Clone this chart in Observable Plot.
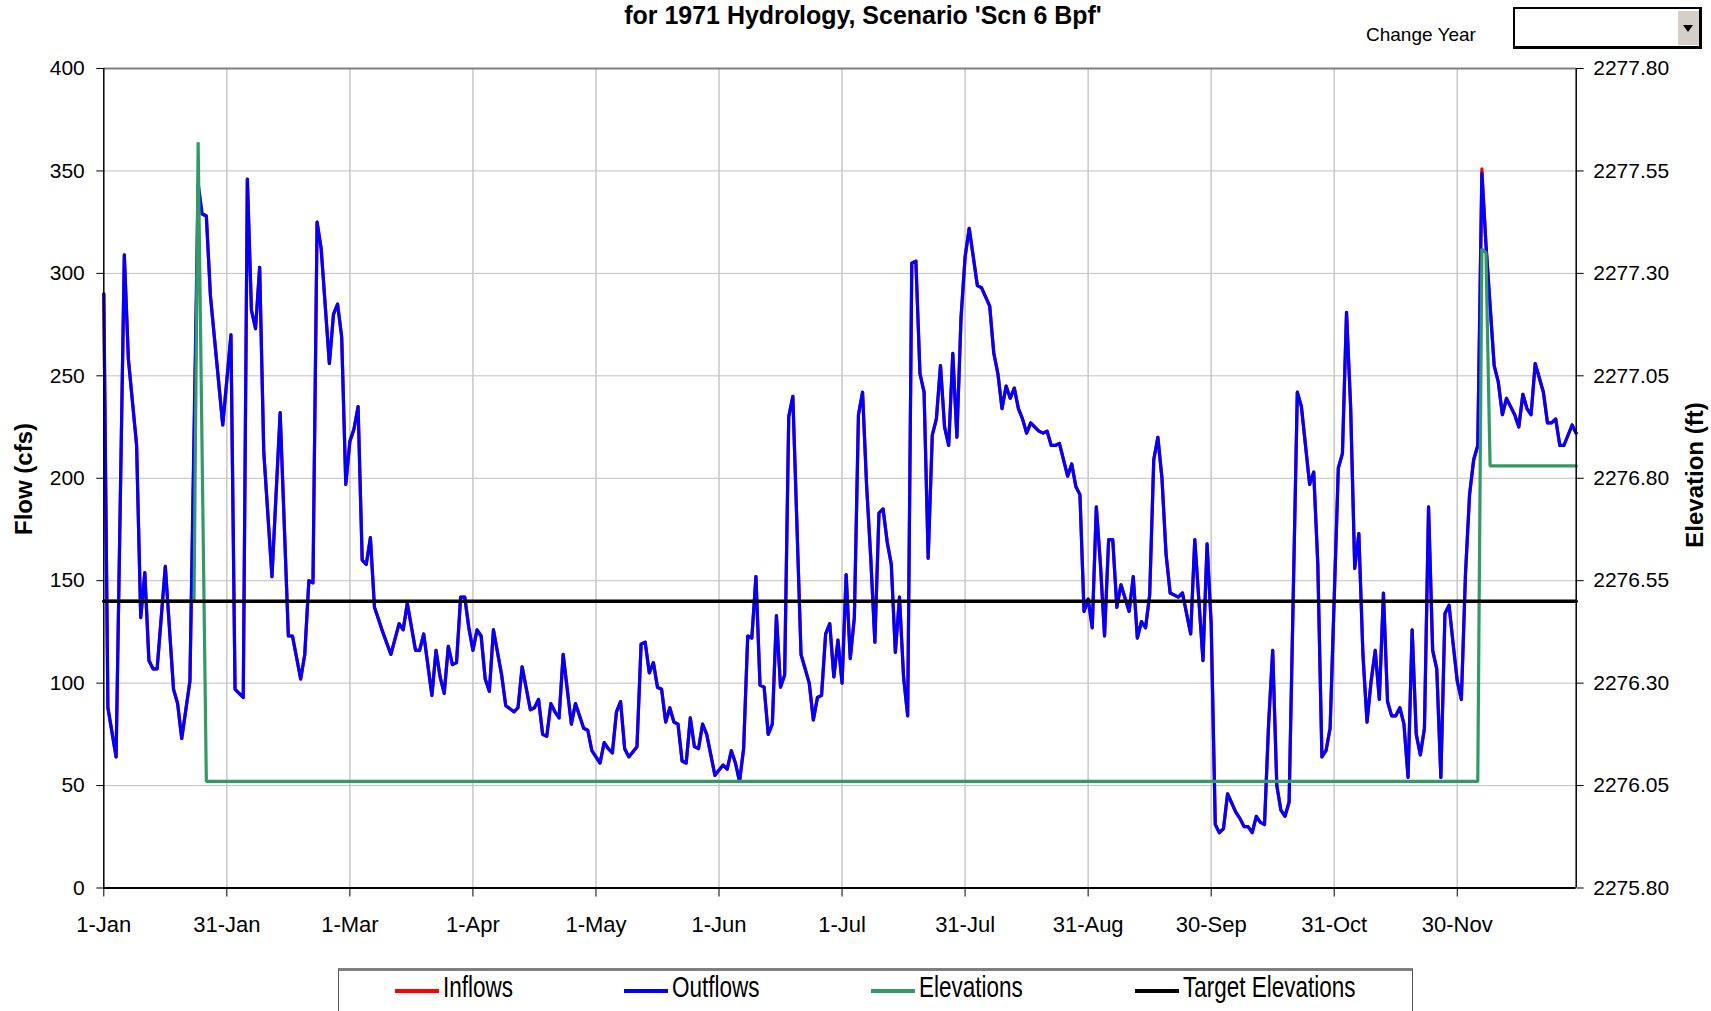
<!DOCTYPE html>
<html>
<head>
<meta charset="utf-8">
<script src="https://cdn.jsdelivr.net/npm/d3@7"></script>
<script src="https://cdn.jsdelivr.net/npm/@observablehq/plot@0.6"></script>
<style>
  html, body { margin: 0; padding: 0; background: #fff; overflow: hidden; }
  #wrap { position: relative; width: 1711px; height: 1011px; overflow: hidden;
          font-family: 'Liberation Sans', Arial, sans-serif; color: #000; background: #fff; }
  #chart { position: absolute; left: 0; top: 0; }
  .title { position: absolute; left: 863px; top: 0px; font-weight: bold; font-size: 26px;
           line-height: 30px; white-space: nowrap; transform: translateX(-50%) scaleX(0.96); }
  .ytitle { position: absolute; font-weight: bold; font-size: 24px; line-height: 24px;
            white-space: nowrap; transform: translate(-50%, -50%) rotate(-90deg); }
  .cy { position: absolute; left: 1366px; top: 25px; font-size: 19px; line-height: 19px; white-space: nowrap; }
  .dd { position: absolute; left: 1513px; top: 7px; width: 189px; height: 42px; box-sizing: border-box;
        border-top: 2px solid #000; border-left: 2px solid #000; border-right: 3px solid #000;
        border-bottom: 3px solid #000; background: #fff; }
  .dd .btn { position: absolute; right: 0px; top: 1px; width: 22px; height: 35px; background: #d4d0c8;
             border-left: 1px solid #fff; border-top: 1px solid #fff; box-sizing: border-box; }
  .dd .btn:after { content: ""; position: absolute; left: 5px; top: 14px; width: 0; height: 0;
             border-left: 5px solid transparent; border-right: 5px solid transparent; border-top: 7px solid #000; }
  .legend { position: absolute; left: 338px; top: 968px; width: 1075px; height: 60px; box-sizing: border-box;
            border-top: 3px solid #808080; border-left: 1px solid #555; border-right: 1px solid #555; background: #fff; }
  .sw { position: absolute; width: 44px; height: 4px; top: 989px; }
  .lt { position: absolute; top: 973px; font-size: 29px; line-height: 29px; white-space: nowrap;
        transform: scaleX(0.775); transform-origin: left center; }
</style>
</head>
<body>
<div id="wrap">
  <div id="chart"></div>
  <div class="title">for 1971 Hydrology, Scenario 'Scn 6 Bpf'</div>
  <div class="cy">Change Year</div>
  <div class="dd"><div class="btn"></div></div>
  <div class="ytitle" style="left:24px; top:479px;">Flow (cfs)</div>
  <div class="ytitle" style="left:1695px; top:475px;">Elevation (ft)</div>
  <div class="legend"></div>
  <div id="legendItems"></div>
</div>
<script>
// ---- Data ----
// x = day index of the plotted series (0 = 1-Jan, labels every 30 points)
const dateTickIdx = [0, 30, 60, 90, 120, 150, 180, 210, 240, 270, 300, 330];
const dateLabels = ["1-Jan", "31-Jan", "1-Mar", "1-Apr", "1-May", "1-Jun", "1-Jul", "31-Jul", "31-Aug", "30-Sep", "31-Oct", "30-Nov"];

const flowTicks = [0, 50, 100, 150, 200, 250, 300, 350, 400];
const elevTickLabels = ["2275.80", "2276.05", "2276.30", "2276.55", "2276.80", "2277.05", "2277.30", "2277.55", "2277.80"];
const elevMin = 2275.80, elevMax = 2277.80, flowMax = 400;

// Outflows (cfs), vertices of the daily series
const outflowDay = [
  0,1,3,5,6,8,9,10,11,12,13,15,17,18,19,21,23,24,25,26,
  29,31,32,34,35,36,37,38,39,41,43,45,46,48,49,50,51,52,53,55,
  56,57,58,59,60,61,62,63,64,65,66,67,68,70,72,73,74,76,77,78,
  80,81,82,83,84,85,86,87,88,89,90,91,92,93,94,95,97,98,100,101,
  102,104,105,106,107,108,109,110,111,112,114,115,117,118,119,121,122,123,124,125,
  126,127,128,130,131,132,133,134,135,136,137,138,139,140,141,142,143,144,145,146,
  147,149,151,152,153,154,155,156,157,158,159,160,161,162,163,164,165,166,167,168,
  170,172,173,174,175,176,177,178,179,180,181,182,183,184,185,186,187,188,189,190,
  191,192,193,194,195,196,197,198,199,200,201,202,203,204,205,206,207,208,209,210,
  211,213,214,216,217,218,219,220,221,222,223,224,225,226,227,228,229,230,231,232,
  233,235,236,237,238,239,240,241,242,243,244,245,246,247,248,250,251,252,253,254,
  255,256,257,258,259,260,262,263,265,266,268,269,270,271,272,273,274,276,277,278,
  279,280,281,282,283,284,285,286,287,288,289,291,292,294,295,296,297,298,299,301,
  302,303,304,305,306,307,308,309,310,311,312,313,314,315,316,317,318,319,320,321,
  322,323,324,325,326,327,328,329,330,331,332,333,334,335,336,337,339,340,341,342,
  344,345,346,347,348,349,351,352,353,354,355,356,357,358,359
];
const outflowFlow = [
  290,88,64,309,258,216,132,154,111,107,107,157,97,90,73,101,344,329,328,289,
  226,270,97,93,346,282,273,303,213,152,232,123,123,102,114,150,149,325,312,256,
  280,285,269,197,218,224,235,160,158,171,137,131,125,114,129,126,139,116,116,124,
  94,116,103,95,118,109,110,142,142,127,116,126,123,102,96,126,104,89,86,88,
  108,87,88,92,75,74,90,86,83,114,80,90,78,77,67,61,71,68,66,86,
  91,68,64,69,119,120,105,110,98,97,81,88,81,80,62,61,83,69,68,80,
  75,55,60,58,67,61,52,68,123,122,152,99,98,75,80,133,98,104,230,240,
  114,100,82,93,94,124,129,103,121,100,153,112,132,231,242,196,161,120,183,185,
  169,158,115,142,103,84,305,306,251,242,161,221,229,255,225,216,261,220,278,308,
  322,294,293,284,261,251,234,245,239,244,234,229,222,227,225,223,222,223,216,216,
  217,201,207,196,192,135,141,127,186,158,123,170,170,137,148,135,152,122,130,127,
  143,209,220,200,163,144,142,144,124,170,111,168,129,31,27,29,46,37,34,30,
  30,27,35,32,31,80,116,50,38,35,42,242,235,197,203,158,64,67,78,205,
  212,281,235,156,173,114,81,101,116,92,144,91,84,84,88,80,54,126,75,65,
  78,186,116,107,54,134,138,119,101,92,153,192,209,216,349,314,255,247,231,239,
  231,225,241,234,231,256,242,227,227,229,216,216,221,226,222
];
// Inflows (cfs): almost everywhere hidden under the outflows
const inflowFlow = [
  290,88,64,309,258,216,132,154,111,107,107,157,97,90,73,101,331,329,328,289,
  226,270,97,93,346,282,273,303,213,152,232,123,123,102,114,150,149,325,312,256,
  280,285,269,197,218,224,235,160,158,171,137,131,125,114,129,126,139,116,116,124,
  94,116,103,95,118,109,110,142,142,127,116,126,123,102,96,126,104,89,86,88,
  108,87,88,92,75,74,90,86,83,114,80,90,78,77,67,61,71,68,66,86,
  91,68,64,69,119,120,105,110,98,97,81,88,81,80,62,61,83,69,68,80,
  75,55,60,58,67,61,52,68,123,122,152,99,98,75,80,133,98,104,230,240,
  114,100,82,93,94,124,129,103,121,100,153,112,132,231,242,196,161,120,183,185,
  169,158,115,142,103,84,305,306,251,242,161,221,229,255,225,216,261,220,278,308,
  322,294,293,284,261,251,234,245,239,244,234,229,222,227,225,223,222,223,216,216,
  217,201,207,196,192,135,141,127,186,158,123,170,170,137,148,135,152,122,130,127,
  143,209,220,200,163,144,142,144,124,170,111,168,129,31,27,29,46,37,34,30,
  30,27,35,32,31,80,116,50,38,35,42,242,235,197,203,158,64,67,78,205,
  212,281,235,156,173,114,81,101,116,92,144,91,84,84,88,80,54,126,75,65,
  78,186,116,107,54,134,138,119,101,92,153,192,209,216,351,314,255,247,231,239,
  231,225,241,234,231,256,242,227,227,229,216,216,221,226,222
];

// Elevations (ft), vertices
const elevDay = [0, 22, 23, 25, 335, 336, 337, 338, 359];
const elevFt = [2276.50, 2276.50, 2277.62, 2276.06, 2276.06, 2277.36, 2277.35, 2276.83, 2276.83];

// Target elevation (ft)
const targetDay = [0, 359];
const targetFt = [2276.50, 2276.50];

const legendNames = ["Inflows", "Outflows", "Elevations", "Target Elevations"];
const legendColors = ["#ff0000", "#0000ff", "#339966", "#000000"];

// ---- Chart ----
// secondary (elevation) axis shares the flow scale: 2275.80..2277.80 ft <-> 0..400 cfs
const toFlow = (e) => (e - elevMin) / (elevMax - elevMin) * flowMax;
const lastDay = outflowDay[outflowDay.length - 1];

const chart = Plot.plot({
  width: 1711,
  height: 1011,
  marginLeft: 103.3,
  marginRight: 135.3,
  marginTop: 68,
  marginBottom: 123.5,
  style: { fontFamily: "'Liberation Sans', Arial, sans-serif", fontSize: "21px", color: "#000", background: "transparent", overflow: "visible" },
  x: { domain: [0, lastDay] },
  y: { domain: [0, flowMax] },
  marks: [
    Plot.gridY(flowTicks.slice(1, -1), { stroke: "#c0c0c0", strokeOpacity: 1, strokeWidth: 1 }),
    Plot.gridX(dateTickIdx.slice(1), { stroke: "#c8c8c8", strokeOpacity: 1, strokeWidth: 1.5 }),
    Plot.line(outflowDay, { x: outflowDay, y: inflowFlow, stroke: legendColors[0], strokeWidth: 3.2 }),
    Plot.line(outflowDay, { x: outflowDay, y: outflowFlow, stroke: legendColors[1], strokeWidth: 3.2 }),
    Plot.line(elevDay, { x: elevDay, y: elevFt.map(toFlow), stroke: legendColors[2], strokeWidth: 3.2, strokeLinejoin: "miter" }),
    Plot.line(targetDay, { x: targetDay, y: targetFt.map(toFlow), stroke: legendColors[3], strokeWidth: 3.5 }),
    Plot.ruleY([flowMax], { stroke: "#808080", strokeWidth: 2 }),
    Plot.ruleY([0], { stroke: "#000", strokeWidth: 2 }),
    Plot.ruleX([0], { stroke: "#000", strokeWidth: 1.5 }),
    Plot.ruleX([lastDay], { stroke: "#000", strokeWidth: 1.5 }),
    Plot.axisY(flowTicks, { anchor: "left", tickSize: 7, tickPadding: 12, fontSize: 21, label: null }),
    Plot.axisY(flowTicks, { anchor: "right", tickSize: 7, tickPadding: 10, fontSize: 21, label: null,
      tickFormat: (d) => elevTickLabels[flowTicks.indexOf(d)] }),
    Plot.axisX(dateTickIdx, { anchor: "bottom", tickSize: 9, tickPadding: 19, fontSize: 22, label: null,
      tickFormat: (d) => dateLabels[dateTickIdx.indexOf(d)] })
  ]
});
document.getElementById("chart").appendChild(chart);

// ---- Legend ----
const swLeft = [395, 624, 871, 1135];
const txtLeft = [443, 672, 919, 1183];
const li = document.getElementById("legendItems");
legendNames.forEach((name, i) => {
  const s = document.createElement("div");
  s.className = "sw";
  s.style.left = swLeft[i] + "px";
  s.style.background = legendColors[i];
  li.appendChild(s);
  const t = document.createElement("div");
  t.className = "lt";
  t.style.left = txtLeft[i] + "px";
  t.textContent = name;
  li.appendChild(t);
});
</script>
</body>
</html>
